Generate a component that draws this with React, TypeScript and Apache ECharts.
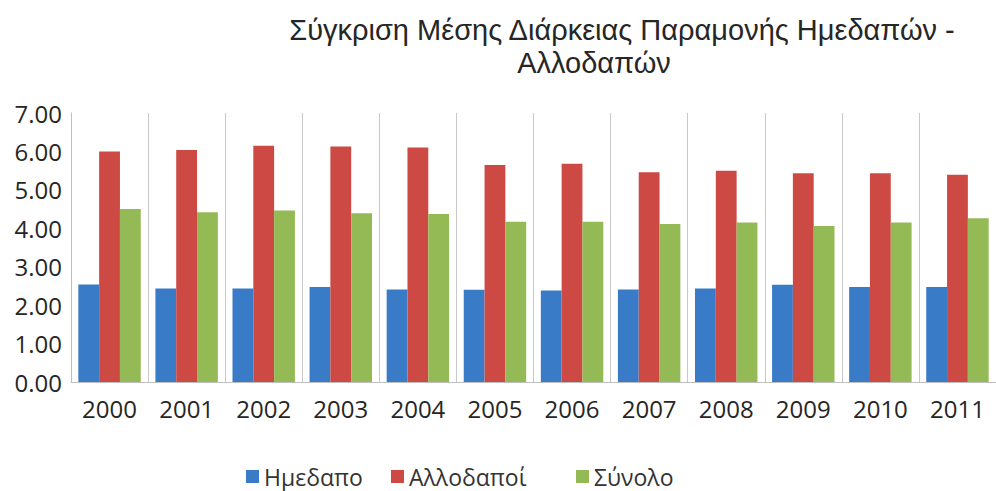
import React, { useEffect, useRef } from "react";
import * as echarts from "echarts";

const years = ["2000", "2001", "2002", "2003", "2004", "2005", "2006", "2007", "2008", "2009", "2010", "2011"];
const domestic = [2.54, 2.43, 2.43, 2.47, 2.41, 2.4, 2.38, 2.41, 2.43, 2.53, 2.47, 2.47];
const foreign = [6.0, 6.04, 6.15, 6.13, 6.1, 5.65, 5.68, 5.46, 5.5, 5.43, 5.43, 5.39];
const total = [4.5, 4.42, 4.46, 4.39, 4.37, 4.17, 4.17, 4.11, 4.15, 4.06, 4.15, 4.26];
const seriesNames = ["Ημεδαπο", "Αλλοδαποί", "Σύνολο"];
const colors = ["#3a7bc8", "#cc4a43", "#94ba55"];
const titleLine1 = "Σύγκριση Μέσης Διάρκειας Παραμονής Ημεδαπών -";
const titleLine2 = "Αλλοδαπών";

const FONT = "'Open Sans', 'Noto Sans', sans-serif";
const TITLE_FONT = "'Liberation Sans', Arial, sans-serif";
const legendLefts = [246, 391, 576];

export default function App() {
  const ref = useRef<HTMLDivElement>(null);
  useEffect(() => {
    if (!ref.current) return;
    const chart = echarts.init(ref.current, null, { renderer: "svg" });
    const data = [domestic, foreign, total];
    const titleStyle = { fontFamily: TITLE_FONT, fontSize: 29, fontWeight: "normal", color: "#262626" };
    chart.setOption({
      animation: false,
      backgroundColor: "#ffffff",
      color: colors,
      title: [
        { text: titleLine1, left: 622, top: 15, padding: 0, textAlign: "center", textStyle: titleStyle },
        { text: titleLine2, left: 594, top: 48, padding: 0, textAlign: "center", textStyle: titleStyle },
      ],
      legend: seriesNames.map((name, i) => ({
        data: [name],
        left: legendLefts[i],
        top: 465,
        padding: 0,
        itemWidth: 13,
        itemHeight: 13,
        icon: "rect",
        textStyle: { fontFamily: FONT, fontSize: 23, color: "#333333" },
      })),
      grid: { left: 71, top: 113, height: 269, width: 933 },
      xAxis: {
        type: "category",
        data: years,
        axisLine: { lineStyle: { color: "#bfbfbf", width: 1 } },
        axisTick: { show: false },
        splitLine: { show: true, lineStyle: { color: "#c8c8c8", width: 1 } },
        axisLabel: { fontFamily: FONT, fontSize: 24, color: "#262626", margin: 14 },
      },
      yAxis: {
        type: "value",
        min: 0,
        max: 7,
        interval: 1,
        axisLine: { show: true, lineStyle: { color: "#bfbfbf", width: 1 } },
        axisTick: { show: false },
        splitLine: { show: false },
        axisLabel: {
          fontFamily: FONT,
          fontSize: 24,
          color: "#262626",
          margin: 9,
          formatter: (v: number) => v.toFixed(2),
        },
      },
      series: seriesNames.map((name, i) => ({
        name,
        type: "bar",
        data: data[i],
        barGap: "0%",
        barCategoryGap: "19%",
        itemStyle: { color: colors[i] },
      })),
    });
    return () => chart.dispose();
  }, []);
  return <div ref={ref} style={{ width: 996, height: 491, position: "absolute", left: 0, top: 0 }} />;
}
